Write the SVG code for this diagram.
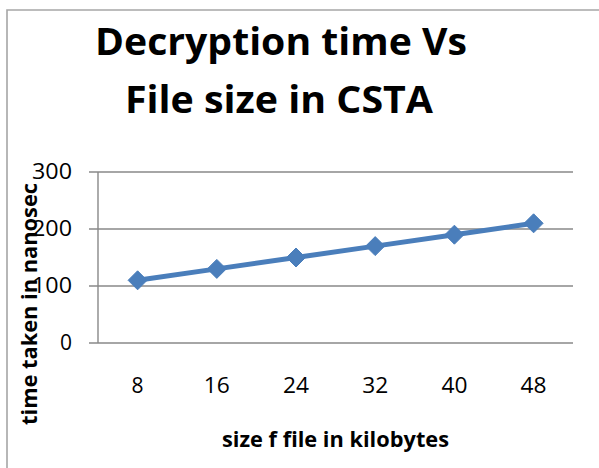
<svg xmlns="http://www.w3.org/2000/svg" width="599" height="468" viewBox="0 0 599 468">
  <style>
    .frame { fill: none; stroke: #a6a6a6; stroke-width: 1.6; }
    .grid { stroke: #898989; stroke-width: 1.4; fill: none; }
    .tick { font-family: "Open Sans", "Liberation Sans", sans-serif; font-size: 21px; fill: #000; }
    .title { font-family: "Open Sans", "Liberation Sans", sans-serif; font-size: 37px; font-weight: bold; fill: #000; }
    .axis-title { font-family: "Open Sans", "Liberation Sans", sans-serif; font-size: 21px; font-weight: bold; fill: #000; }
    .series { fill: none; stroke: #4a7ebb; stroke-width: 5; stroke-linejoin: round; }
    .marker { fill: #4a7ebb; stroke: #4a7ebb; stroke-width: 1; }
  </style>
  <defs>
    <path id="diamond" d="M0,-9.5 L9.5,0 L0,9.5 L-9.5,0 Z"/>
  </defs>

  <rect width="599" height="468" fill="#ffffff"/>

  <!-- chart frame: left and top edges -->
  <path class="frame" d="M7,468 L7,10 L600,10"/>

  <!-- chart title -->
  <g id="title">
    <text class="title" x="281" y="55" text-anchor="middle" textLength="372" lengthAdjust="spacingAndGlyphs">Decryption time Vs</text>
    <text class="title" x="279" y="113" text-anchor="middle" textLength="308" lengthAdjust="spacingAndGlyphs">File size in CSTA</text>
  </g>

  <!-- gridlines, value axis and its ticks -->
  <g id="axes">
    <path class="grid" d="M89,172 H573 M89,229 H573 M89,286 H573 M89,343 H573 M98,172 V343"/>
  </g>

  <!-- value axis labels -->
  <g id="y-labels">
    <text class="tick" x="72" y="179" text-anchor="end" textLength="40" lengthAdjust="spacingAndGlyphs">300</text>
    <text class="tick" x="72" y="236" text-anchor="end" textLength="40" lengthAdjust="spacingAndGlyphs">200</text>
    <text class="tick" x="72" y="293" text-anchor="end" textLength="40" lengthAdjust="spacingAndGlyphs">100</text>
    <text class="tick" x="72" y="350" text-anchor="end">0</text>
  </g>

  <!-- category axis labels -->
  <g id="x-labels">
    <text class="tick" x="137.6" y="393" text-anchor="middle">8</text>
    <text class="tick" x="216.8" y="393" text-anchor="middle" textLength="26" lengthAdjust="spacingAndGlyphs">16</text>
    <text class="tick" x="296" y="393" text-anchor="middle" textLength="26" lengthAdjust="spacingAndGlyphs">24</text>
    <text class="tick" x="375.2" y="393" text-anchor="middle" textLength="26" lengthAdjust="spacingAndGlyphs">32</text>
    <text class="tick" x="454.4" y="393" text-anchor="middle" textLength="26" lengthAdjust="spacingAndGlyphs">40</text>
    <text class="tick" x="533.6" y="393" text-anchor="middle" textLength="26" lengthAdjust="spacingAndGlyphs">48</text>
  </g>

  <!-- axis titles -->
  <g id="x-title">
    <text class="axis-title" x="335.5" y="447" text-anchor="middle" textLength="227" lengthAdjust="spacingAndGlyphs">size f file in kilobytes</text>
  </g>
  <g id="y-title">
    <text class="axis-title" transform="translate(37,304) rotate(-90)" x="0" y="0" text-anchor="middle" textLength="242" lengthAdjust="spacingAndGlyphs">time taken in nanosec</text>
  </g>

  <!-- data series -->
  <g id="series">
    <polyline class="series" points="137.6,280.3 216.8,268.9 296,257.5 375.2,246.1 454.4,234.7 533.6,223.3"/>
    <use href="#diamond" class="marker" x="137.6" y="280.3"/>
    <use href="#diamond" class="marker" x="216.8" y="268.9"/>
    <use href="#diamond" class="marker" x="296" y="257.5"/>
    <use href="#diamond" class="marker" x="375.2" y="246.1"/>
    <use href="#diamond" class="marker" x="454.4" y="234.7"/>
    <use href="#diamond" class="marker" x="533.6" y="223.3"/>
  </g>
</svg>
